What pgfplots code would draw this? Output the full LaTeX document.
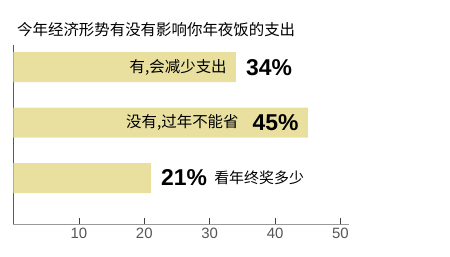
\documentclass[border=0pt]{standalone}
\usepackage{pgfplots}
\pgfplotsset{compat=1.18}
\usepackage{fontspec}
\setmainfont{Liberation Sans}
\newfontfamily\cjk{Noto Sans CJK SC}
\definecolor{barc}{RGB}{233,224,160}
\definecolor{tickc}{RGB}{85,85,85}
\begin{document}
\begin{tikzpicture}
\useasboundingbox (-13.5bp,-33bp) rectangle (436.5bp,224bp);
\begin{axis}[
  at={(0,0)}, anchor=south west,
  scale only axis, width=335.5bp, height=179bp,
  xmin=0, xmax=51.3, ymin=0.17, ymax=3.4,
  axis x line*=bottom, axis y line*=left,
  x axis line style={color=black!40, line width=0.8pt, -},
  y axis line style={color=black!65, line width=0.8pt, -},
  xtick={10,20,30,40,50}, ytick=\empty,
  tick align=inside, major tick length=6bp,
  xtick style={color=black!75, line width=0.8pt},
  xticklabel style={font=\fontsize{15}{15}\selectfont, text=tickc, yshift=-1bp},
  /pgf/number format/assume math mode=true,
  xbar, bar width=30bp,
  clip=false,
]
\addplot[fill=barc, draw=none] coordinates {(34,3) (45,2) (21,1)};
\node[anchor=east, inner sep=0] at (axis cs:34,3) [xshift=-9bp] {\cjk\fontsize{15.5}{15.5}\selectfont 有,会减少支出};
\node[anchor=west, inner sep=0] at (axis cs:34,3) [xshift=10bp] {\fontsize{23}{23}\selectfont\bfseries 34\%};
\node[anchor=east, inner sep=0] at (axis cs:45,2) [xshift=-69bp] {\cjk\fontsize{15.5}{15.5}\selectfont 没有,过年不能省};
\node[anchor=east, inner sep=0] at (axis cs:45,2) [xshift=-9bp] {\fontsize{23}{23}\selectfont\bfseries 45\%};
\node[anchor=west, inner sep=0] (p3) at (axis cs:21,1) [xshift=10bp] {\fontsize{23}{23}\selectfont\bfseries 21\%};
\node[anchor=west, inner sep=0] at ([xshift=7bp]p3.east) {\cjk\fontsize{15}{15}\selectfont 看年终奖多少};
\end{axis}
\node[anchor=west, inner sep=0] at (3.5bp,194.5bp) {\cjk\fontsize{15.5}{15.5}\selectfont 今年经济形势有没有影响你年夜饭的支出};
\end{tikzpicture}
\end{document}
